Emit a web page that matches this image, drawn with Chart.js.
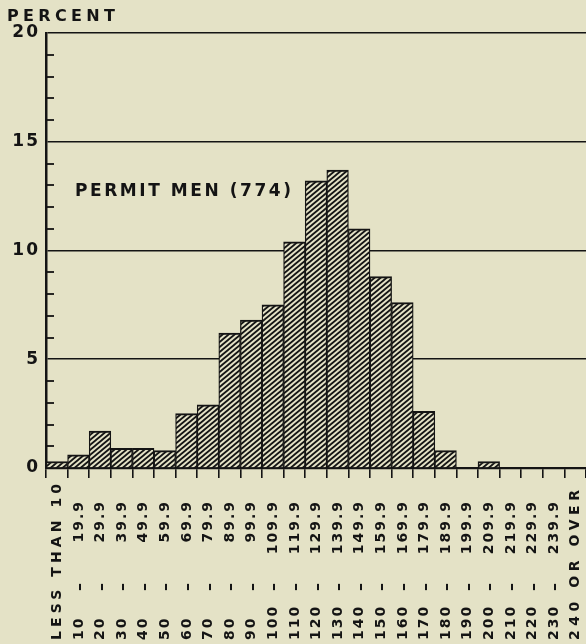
<!DOCTYPE html>
<html><head><meta charset="utf-8">
<script src="https://cdn.jsdelivr.net/npm/chart.js@4.4.1/dist/chart.umd.min.js"></script>
<style>
html,body{margin:0;padding:0;background:#e4e2c6;overflow:hidden}
#wrap{width:586px;height:644px;position:relative}
</style>
</head><body>
<div id="wrap"><canvas id="c" width="586" height="644"></canvas></div>
<script>
// ---- data ----
const categories = [
  "LESS THAN 10","10 - 19.9","20 - 29.9","30 - 39.9","40 - 49.9","50 - 59.9",
  "60 - 69.9","70 - 79.9","80 - 89.9","90 - 99.9","100 - 109.9","110 - 119.9",
  "120 - 129.9","130 - 139.9","140 - 149.9","150 - 159.9","160 - 169.9","170 - 179.9",
  "180 - 189.9","190 - 199.9","200 - 209.9","210 - 219.9","220 - 229.9","230 - 239.9",
  "240 OR OVER"
];
const percentValues = [
  0.3, 0.6, 1.7, 0.9, 0.9, 0.8,
  2.5, 2.9, 6.2, 6.8, 7.5, 10.4,
  13.2, 13.7, 11.0, 8.8, 7.6, 2.6,
  0.8, 0, 0.3, 0, 0, 0,
  0
];
const yTickValues = [0, 5, 10, 15, 20];
const yAxisTitle = "PERCENT";
const seriesLabel = "PERMIT MEN (774)";

// ---- style ----
const BG = '#e4e2c6';
const INK = '#141414';
const FONT = '"DejaVu Sans", sans-serif';

// hatch pattern
const PW = 6, PH = 5;
const pc = document.createElement('canvas');
pc.width = PW; pc.height = PH;
const p = pc.getContext('2d');
p.fillStyle = BG; p.fillRect(0, 0, PW, PH);
p.strokeStyle = INK; p.lineWidth = 1.8;
p.beginPath();
for (const dy of [-PH, 0, PH]) {
  for (const dx of [-PW, 0, PW]) {
    p.moveTo(dx, PH + dy); p.lineTo(dx + PW, dy);
  }
}
p.stroke();
const hatch = document.getElementById('c').getContext('2d').createPattern(pc, 'repeat');

function spaced(ctx, text, x, y, target, align) {
  ctx.letterSpacing = '0px';
  const w = ctx.measureText(text).width;
  const n = text.length;
  const ls = n > 1 ? Math.max(0, (target - w) / (n - 1)) : 0;
  ctx.letterSpacing = ls + 'px';
  ctx.textAlign = align;
  ctx.fillText(text, align === 'right' ? x + ls : x, y);
  ctx.letterSpacing = '0px';
}
function fixedSpaced(ctx, text, x, y, ls, align) {
  ctx.letterSpacing = ls + 'px';
  ctx.textAlign = align;
  ctx.fillText(text, align === 'right' ? x + ls : (align === 'center' ? x + ls / 2 : x), y);
  ctx.letterSpacing = '0px';
}

const decorPlugin = {
  id: 'decor',
  beforeDraw(chart) {
    chart.ctx.letterSpacing = '2px';
  },
  afterDraw(chart) {
    const ctx = chart.ctx;
    const xs = chart.scales.x, ys = chart.scales.y;
    const ca = chart.chartArea;
    ctx.save();
    ctx.fillStyle = INK;
    ctx.strokeStyle = INK;
    // minor y ticks inside plot
    ctx.lineWidth = 1.8;
    for (let v = 1; v < 20; v++) {
      if (v % 5 === 0) continue;
      const y = Math.round(ys.getPixelForValue(v));
      ctx.beginPath(); ctx.moveTo(ca.left, y); ctx.lineTo(ca.left + 8, y); ctx.stroke();
    }
    // axis title
    ctx.textBaseline = 'middle';
    ctx.font = 'bold 16px ' + FONT;
    spaced(ctx, yAxisTitle, 7, ca.top - 16, 108, 'left');
    // series annotation
    ctx.font = 'bold 17px ' + FONT;
    spaced(ctx, seriesLabel, ca.left + 29, ys.getPixelForValue(12.7), 216, 'left');
    // rotated category labels
    const bottom = chart.height - 4;
    for (let i = 0; i < categories.length; i++) {
      const x = xs.getPixelForValue(i);
      const lab = categories[i];
      ctx.save();
      ctx.translate(x + 0.5, 0);
      ctx.rotate(-Math.PI / 2);
      ctx.textBaseline = 'middle';
      const m = lab.match(/^(\d+) - ([\d.]+)$/);
      if (m) {
        ctx.font = 'bold 14px ' + FONT;
        fixedSpaced(ctx, m[1], -bottom, 0, 2, 'left');
        ctx.font = 'bold 16px ' + FONT;
        ctx.textAlign = 'center';
        ctx.fillText('\u2013', -587, 1);
        ctx.font = 'bold 14px ' + FONT;
        fixedSpaced(ctx, m[2], -502, 0, 2, 'right');
      } else {
        ctx.font = 'bold 14px ' + FONT;
        const top = i === 0 ? 484 : 490;
        spaced(ctx, lab, -bottom, 0, bottom - top, 'left');
      }
      ctx.restore();
    }
    ctx.restore();
  }
};

new Chart(document.getElementById('c'), {
  type: 'bar',
  data: {
    labels: categories,
    datasets: [{
      label: seriesLabel,
      data: percentValues,
      backgroundColor: hatch,
      borderColor: INK,
      borderWidth: { top: 2, left: 1.3, right: 1.3, bottom: 0 },
      borderSkipped: false,
      barPercentage: 1,
      categoryPercentage: 1
    }]
  },
  options: {
    responsive: false,
    animation: false,
    devicePixelRatio: 1,
    layout: { padding: { left: 0, right: 0, top: 33, bottom: 0 } },
    plugins: { legend: { display: false }, tooltip: { enabled: false }, title: { display: false } },
    scales: {
      x: {
        type: 'category',
        offset: true,
        ticks: { display: false },
        grid: { display: true, offset: true, drawOnChartArea: false, drawTicks: true, tickLength: 10, color: INK, lineWidth: 1.6 },
        border: { display: true, color: INK, width: 2.2 },
        afterFit(scale) { scale.height = 176; }
      },
      y: {
        min: 0, max: 20,
        afterBuildTicks(scale) { scale.ticks = yTickValues.map(v => ({ value: v })); },
        ticks: {
          color: INK, font: { family: 'DejaVu Sans', size: 17, weight: 'bold' }, padding: 6,
          autoSkip: false,
          callback: (v) => String(v)
        },
        grid: { color: INK, lineWidth: 1.6, drawTicks: false },
        border: { display: true, color: INK, width: 2.5 },
        afterFit(scale) { scale.width = 46; }
      }
    }
  },
  plugins: [decorPlugin]
});
</script>
</body></html>
